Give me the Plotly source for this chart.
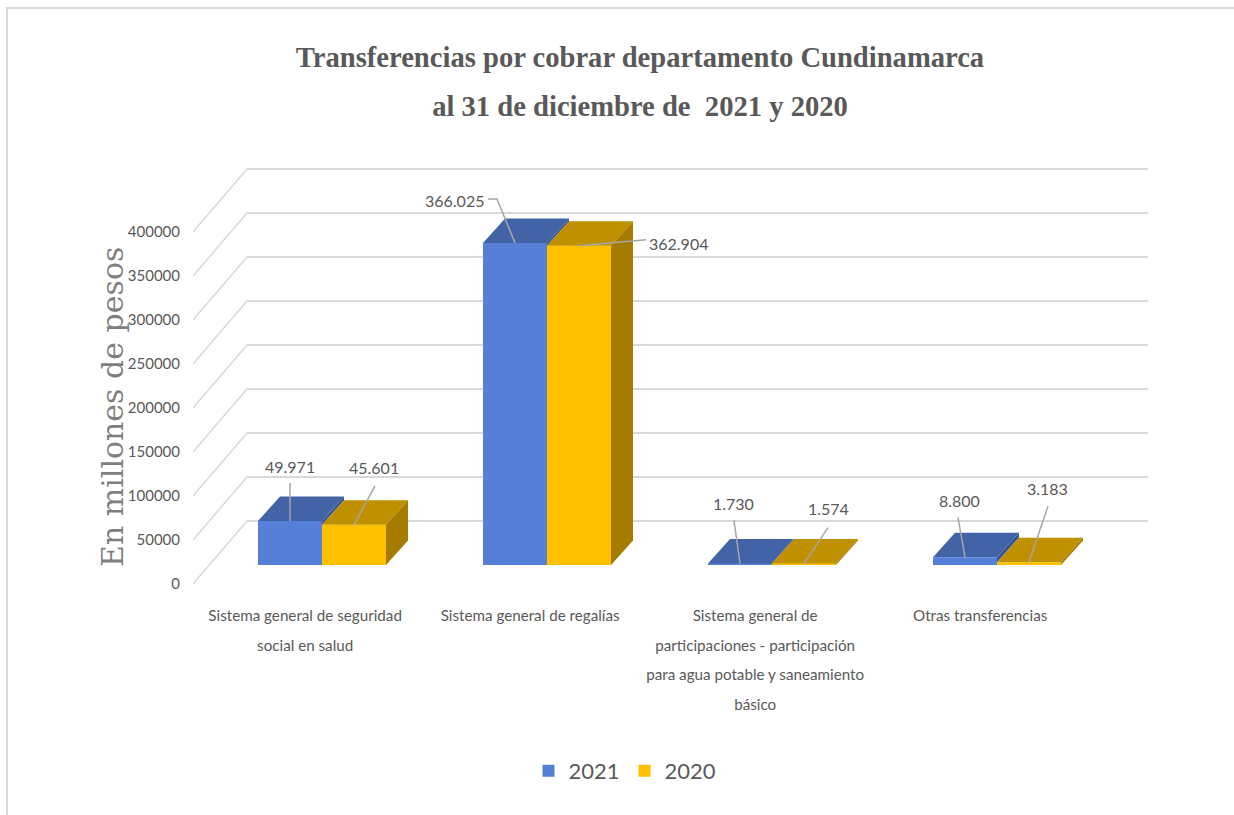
import plotly.graph_objects as go

categories = ["Sistema general de seguridad<br>social en salud",
              "Sistema general de regalías",
              "Sistema general de<br>participaciones - participación<br>para agua potable y saneamiento<br>básico",
              "Otras transferencias"]
values_2021 = [49971, 366025, 1730, 8800]
values_2020 = [45601, 362904, 1574, 3183]
labels_2021 = ["49.971", "366.025", "1.730", "8.800"]
labels_2020 = ["45.601", "362.904", "1.574", "3.183"]
tick_values = [0, 50000, 100000, 150000, 200000, 250000, 300000, 350000, 400000]

BLUE, GOLD = "#5680D8", "#FFC000"
BLUE_TOP, BLUE_SIDE, GOLD_TOP, GOLD_SIDE = "#4264A6", "#375592", "#BF9000", "#A57C00"
GRID, TEXT, LEADER = "#D9D9D9", "#595959", "#A6A6A6"
NARROW = "Lato, sans-serif"

W, H = 1234, 815
L, R, T, B = 193, 1148, 160, 590       # plot box, px
PX_X = 225.0                            # px per category
PX_Y = 0.00088                          # px per value unit
X0 = 322                                # px of first category centre
Y0_BAR, Y0_AXIS, Y0_BACK = 565, 584, 521  # px of value 0 on each plane
BW = 64 / PX_X
DX, DY = 22 / PX_X, 24.5 / PX_Y         # bar depth
WX, WY = 54 / PX_X, 63 / PX_Y           # wall depth (front to back)

x_range = [(L - X0) / PX_X, (R - X0) / PX_X]
y_range = [(Y0_BAR - B) / PX_Y, (Y0_BAR - T) / PX_Y]
y2_range = [(Y0_AXIS - B) / PX_Y, (Y0_AXIS - T) / PX_Y]
back = (Y0_BAR - Y0_BACK) / PX_Y        # back wall lift vs bar plane

def paper_x(px):
    return (px - L) / (R - L)

def paper_y(px):
    return (B - px) / (B - T)

fig = go.Figure()
pos = list(range(len(categories)))
fig.add_bar(x=pos, y=values_2021, width=BW, offset=-BW, name="2021",
            marker=dict(color=BLUE, line=dict(width=0)))
fig.add_bar(x=pos, y=values_2020, width=BW, offset=0, name="2020",
            marker=dict(color=GOLD, line=dict(width=0)))

def poly(xs, ys, color):
    fig.add_scatter(x=xs, y=ys, mode="lines", fill="toself", fillcolor=color,
                    line=dict(width=0, color=color), showlegend=False, hoverinfo="skip")

for i in pos:
    a, b = values_2021[i], values_2020[i]
    poly([i - BW, i, i + DX, i - BW + DX, i - BW], [a, a, a + DY, a + DY, a], BLUE_TOP)
    poly([i, i + DX, i + DX, i, i], [b, b + DY, a + DY, a, b], BLUE_SIDE)
    poly([i, i + BW, i + BW + DX, i + DX, i], [b, b, b + DY, b + DY, b], GOLD_TOP)
    poly([i + BW, i + BW + DX, i + BW + DX, i + BW, i + BW], [0, DY, b + DY, b, 0], GOLD_SIDE)

# leader lines and label centres: offsets in px from each bar's top-front centre
leaders_2021 = [[(0, -38), (0, 0)], [(-27, -44), (-18, -44), (0, 0)], [(-6, -43), (0, 0)], [(-7, -40), (0, 0)]]
leaders_2020 = [[(21, -39), (0, 0)], [(67, -6), (0, 0)], [(24, -36), (0, 0)], [(19, -56), (0, 0)]]
label_off_2021 = [(0, -55), (-61, -42), (-7, -60), (-6, -57)]
label_off_2020 = [(20, -57), (99, -2), (24, -55), (18, -74)]

annotations = []
for vals, leaders, offs, texts, cx in [
        (values_2021, leaders_2021, label_off_2021, labels_2021, -BW / 2),
        (values_2020, leaders_2020, label_off_2020, labels_2020, BW / 2)]:
    for i in pos:
        fig.add_scatter(x=[i + cx + p[0] / PX_X for p in leaders[i]],
                        y=[vals[i] - p[1] / PX_Y for p in leaders[i]],
                        mode="lines", line=dict(color=LEADER, width=1.5),
                        showlegend=False, hoverinfo="skip")
        annotations.append(dict(x=i + cx, y=vals[i], xref="x", yref="y", text=texts[i],
                                xshift=offs[i][0], yshift=-offs[i][1], showarrow=False,
                                font=dict(family=NARROW, size=16, color=TEXT)))

annotations.append(dict(x=paper_x(112), y=paper_y(407), xref="paper", yref="paper",
                        xanchor="center", yanchor="middle",
                        text="En millones de pesos", textangle=-90, showarrow=False,
                        font=dict(family="DejaVu Serif", size=30, color="#7F7F7F")))

shapes = []
for v in tick_values:
    yb = v + back
    shapes.append(dict(type="line", xref="x", yref="y", layer="below",
                       x0=x_range[0] + WX, x1=x_range[1], y0=yb, y1=yb,
                       line=dict(color=GRID, width=2)))
    shapes.append(dict(type="line", xref="x", yref="y", layer="below",
                       x0=x_range[0], x1=x_range[0] + WX, y0=yb - WY, y1=yb,
                       line=dict(color=GRID, width=1.5)))
shapes.append(dict(type="path", xref="paper", yref="paper", layer="below",
                   path=f"M {paper_x(7)} {paper_y(815)} L {paper_x(7)} {paper_y(8)} L {paper_x(1234)} {paper_y(8)}",
                   line=dict(color="#D9D9D9", width=2)))

title_lines = ["Transferencias por cobrar departamento Cundinamarca",
               "al 31 de diciembre de  2021 y 2020"]
fig.update_layout(
    width=W, height=H, autosize=False,
    paper_bgcolor="white", plot_bgcolor="rgba(0,0,0,0)",
    margin=dict(l=L, r=W - R, t=T, b=H - B, autoexpand=False),
    barmode="overlay",
    title=dict(text="<br>".join(f'<span style="font-size:28.6px">{t}</span>' for t in title_lines),
               font=dict(family="Liberation Serif", size=38, color=TEXT, weight="bold"),
               x=640 / W, xanchor="center", y=1 - 67 / H, yanchor="top"),
    xaxis=dict(range=x_range, tickvals=[i - 0.075 for i in pos], tickangle=0,
               ticktext=['<span style="font-size:15.2px">' + c.replace("<br>", '</span><br><span style="font-size:15.2px">') + "</span>" for c in categories],
               tickfont=dict(family=NARROW, size=23, color=TEXT),
               showgrid=False, zeroline=False, showline=False,
               ticks="outside", ticklen=2, tickcolor="rgba(0,0,0,0)", automargin=False),
    yaxis=dict(range=y_range, showgrid=False, zeroline=False, showline=False, showticklabels=False),
    yaxis2=dict(range=y2_range, overlaying="y", side="left", anchor="x",
                tickvals=tick_values, ticktext=[str(v) for v in tick_values],
                tickfont=dict(family=NARROW, size=15, color=TEXT),
                showgrid=False, zeroline=False, showline=False,
                ticks="outside", ticklen=9, tickcolor="rgba(0,0,0,0)", automargin=False),
    legend=dict(orientation="h", x=paper_x(625), xanchor="center", y=paper_y(771), yanchor="middle",
                bgcolor="rgba(0,0,0,0)",
                font=dict(family=NARROW, size=22, color=TEXT), itemwidth=30, traceorder="normal"),
    annotations=annotations, shapes=shapes,
)
# dummy trace keeps the second value axis (the one carrying the tick labels) drawn
fig.add_scatter(x=[None], y=[None], yaxis="y2", showlegend=False, hoverinfo="skip")
fig.write_html("out.html", config={"displayModeBar": False},
               post_script="document.body.style.margin='0';document.body.style.overflow='hidden';")
